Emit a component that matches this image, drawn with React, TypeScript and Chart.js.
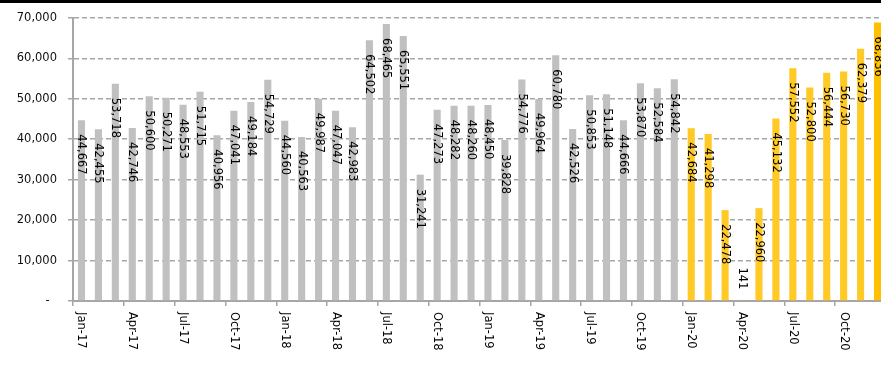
import React, { useEffect, useRef } from "react";
import { Chart, registerables } from "chart.js";

Chart.register(...registerables);

const categories = [
  "Jan-17","Feb-17","Mar-17","Apr-17","May-17","Jun-17","Jul-17","Aug-17","Sep-17","Oct-17","Nov-17","Dec-17",
  "Jan-18","Feb-18","Mar-18","Apr-18","May-18","Jun-18","Jul-18","Aug-18","Sep-18","Oct-18","Nov-18","Dec-18",
  "Jan-19","Feb-19","Mar-19","Apr-19","May-19","Jun-19","Jul-19","Aug-19","Sep-19","Oct-19","Nov-19","Dec-19",
  "Jan-20","Feb-20","Mar-20","Apr-20","May-20","Jun-20","Jul-20","Aug-20","Sep-20","Oct-20","Nov-20","Dec-20",
];

const values2017 = [44667, 42455, 53718, 42746, 50600, 50271, 48553, 51715, 40956, 47041, 49184, 54729];
const values2018 = [44560, 40563, 49987, 47047, 42983, 64502, 68465, 65551, 31241, 47273, 48282, 48260];
const values2019 = [48450, 39828, 54776, 49964, 60780, 42526, 50853, 51148, 44666, 53870, 52584, 54842];
const values2020 = [42684, 41298, 22478, 141, 22960, 45132, 57552, 52800, 56444, 56730, 62379, 68836];

const yTicks = [0, 10000, 20000, 30000, 40000, 50000, 60000, 70000];

const FONT = "DejaVu Sans";
const GRAY = "#C0C0C0";
const YELLOW = "#FFC926";
const AXIS = "#A6A6A6";

export default function App() {
  const ref = useRef<HTMLCanvasElement | null>(null);

  useEffect(() => {
    const canvas = ref.current;
    if (!canvas) return;
    const allValues = [...values2017, ...values2018, ...values2019, ...values2020];
    const grayCount = values2017.length + values2018.length + values2019.length;

    const labelsPlugin = {
      id: "customLabels",
      afterDatasetsDraw(chart: any) {
        const ctx = chart.ctx;
        const meta = chart.getDatasetMeta(0);
        ctx.save();
        ctx.font = `11.5px "${FONT}"`;
        ctx.fillStyle = "#000";
        ctx.textAlign = "left";
        ctx.textBaseline = "middle";
        meta.data.forEach((bar: any, i: number) => {
          const txt = allValues[i].toLocaleString("en-US");
          const w = ctx.measureText(txt).width;
          let y0 = bar.y + 14;
          if (y0 + w > bar.base - 2) y0 = bar.y - 11 - w;
          ctx.save();
          ctx.translate(bar.x, y0);
          ctx.rotate(Math.PI / 2);
          ctx.fillText(txt, 0, 0);
          ctx.restore();
        });
        // x axis labels, rotated clockwise
        const xs = chart.scales.x;
        for (let i = 0; i < categories.length; i += 3) {
          const x = xs.getPixelForValue(i);
          ctx.save();
          ctx.translate(x, xs.top + 11);
          ctx.rotate(Math.PI / 2);
          ctx.fillText(categories[i], 0, 0);
          ctx.restore();
        }
        ctx.restore();
      },
    };

    const chart = new Chart(canvas, {
      type: "bar",
      data: {
        labels: categories,
        datasets: [
          {
            data: allValues,
            backgroundColor: (c: any) => (c.dataIndex >= grayCount ? (c.dataIndex === allValues.length - 1 ? "#FFC000" : YELLOW) : GRAY),
            barPercentage: 0.42,
            categoryPercentage: 1,
          },
        ],
      },
      options: {
        responsive: false,
        animation: false,
        devicePixelRatio: 1,
        layout: { padding: { top: 15, left: 0, right: 0, bottom: 0 } },
        plugins: { legend: { display: false }, tooltip: { enabled: false } },
        scales: {
          x: {
            type: "category",
            offset: true,
            grid: {
              offset: true,
              drawOnChartArea: false,
              drawTicks: true,
              tickLength: 5,
              color: (c: any) => (c.index % 3 === 0 ? AXIS : "rgba(0,0,0,0)"),
              tickColor: (c: any) => (c.index % 3 === 0 ? AXIS : "rgba(0,0,0,0)"),
              lineWidth: 1.5,
            },
            border: { display: true, color: AXIS, width: 2 },
            ticks: { display: false },
            afterFit: (s: any) => {
              s.height = 77;
            },
          },
          y: {
            min: 0,
            max: 70000,
            afterBuildTicks: (s: any) => {
              s.ticks = yTicks.map((v) => ({ value: v }));
            },
            ticks: {
              font: { family: FONT, size: 11.5 },
              color: "#111",
              padding: 11,
              callback: (v: any) => (Number(v) === 0 ? "-  " : Number(v).toLocaleString("en-US")),
            },
            grid: {
              color: AXIS,
              lineWidth: 1.5,
              drawTicks: true,
              tickLength: 5,
              tickColor: AXIS,
            },
            border: { display: true, color: AXIS, width: 2, dash: [5, 3] },
            afterFit: (s: any) => {
              s.width = 73;
            },
          },
        },
      },
      plugins: [labelsPlugin],
    } as any);
    return () => chart.destroy();
  }, []);

  return (
    <div style={{ position: "fixed", left: 0, top: 0, width: 881, height: 378, overflow: "hidden", background: "#fff" }}>
      <canvas ref={ref} width={886} height={378} style={{ position: "absolute", left: 0, top: 0, width: 886, height: 378 }} />
      <div style={{ position: "absolute", left: 0, top: 0, width: 881, height: 3, background: "#000" }} />
    </div>
  );
}
